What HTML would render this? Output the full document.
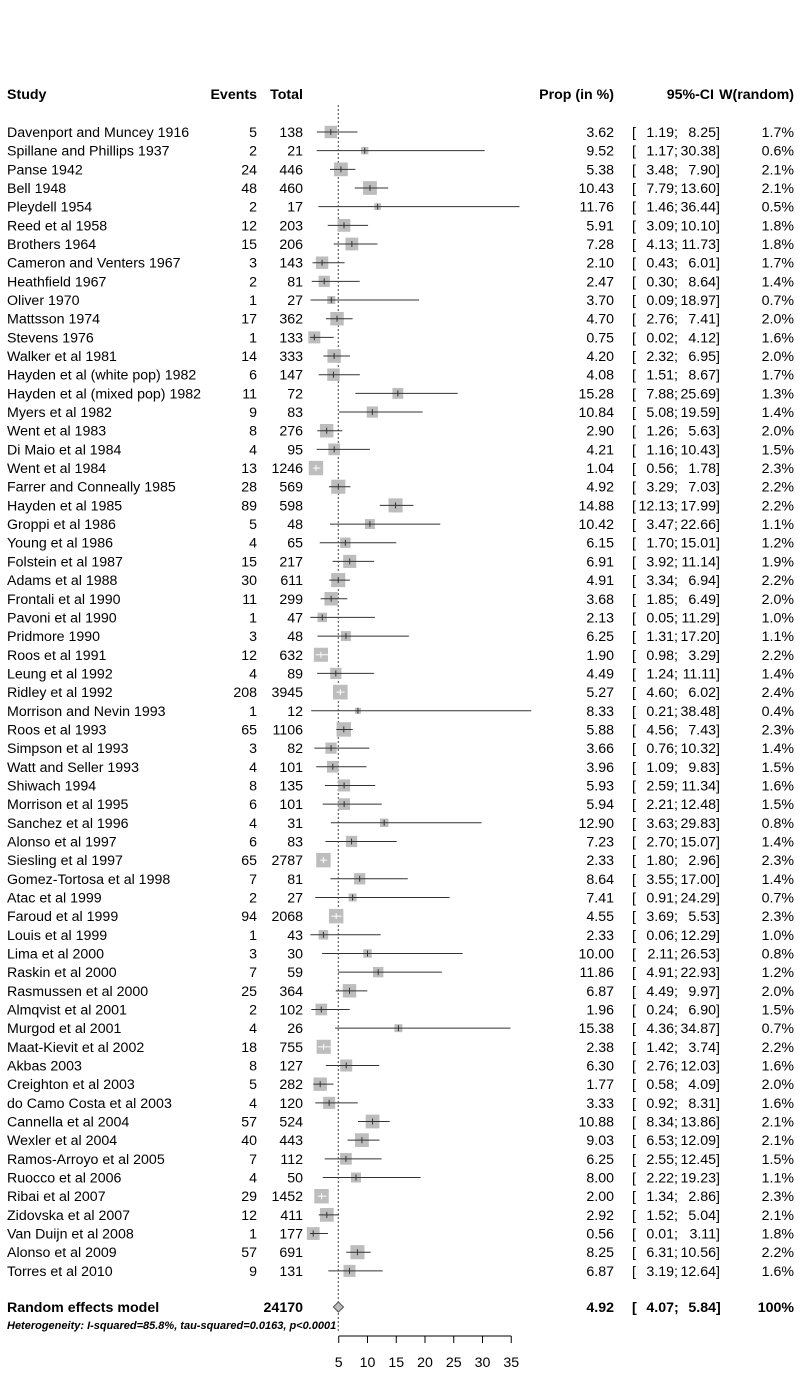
<!DOCTYPE html>
<html><head><meta charset="utf-8"><style>
body{margin:0;background:#fff}
svg{display:block;font-family:"Liberation Sans",sans-serif}
</style></head><body>
<svg id="plot" width="800" height="1400" xmlns="http://www.w3.org/2000/svg"></svg>
<script>
const studies=["Davenport and Muncey 1916","Spillane and Phillips 1937","Panse 1942","Bell 1948","Pleydell 1954","Reed et al 1958","Brothers 1964","Cameron and Venters 1967","Heathfield 1967","Oliver 1970","Mattsson 1974","Stevens 1976","Walker et al 1981","Hayden et al (white pop) 1982","Hayden et al (mixed pop) 1982","Myers et al 1982","Went et al 1983","Di Maio et al 1984","Went et al 1984","Farrer and Conneally 1985","Hayden et al 1985","Groppi et al 1986","Young et al 1986","Folstein et al 1987","Adams et al 1988","Frontali et al 1990","Pavoni et al 1990","Pridmore 1990","Roos et al 1991","Leung et al 1992","Ridley et al 1992","Morrison and Nevin 1993","Roos et al 1993","Simpson et al 1993","Watt and Seller 1993","Shiwach 1994","Morrison et al 1995","Sanchez et al 1996","Alonso et al 1997","Siesling et al 1997","Gomez-Tortosa et al 1998","Atac et al 1999","Faroud et al 1999","Louis et al 1999","Lima et al 2000","Raskin et al 2000","Rasmussen et al 2000","Almqvist et al 2001","Murgod et al 2001","Maat-Kievit et al 2002","Akbas  2003","Creighton et al 2003","do Camo Costa et al 2003","Cannella et al 2004","Wexler et al 2004","Ramos-Arroyo et al 2005","Ruocco et al 2006","Ribai et al 2007","Zidovska et al 2007","Van Duijn  et al 2008","Alonso et al 2009","Torres et al 2010"];
const events=[5,2,24,48,2,12,15,3,2,1,17,1,14,6,11,9,8,4,13,28,89,5,4,15,30,11,1,3,12,4,208,1,65,3,4,8,6,4,6,65,7,2,94,1,3,7,25,2,4,18,8,5,4,57,40,7,4,29,12,1,57,9];
const totals=[138,21,446,460,17,203,206,143,81,27,362,133,333,147,72,83,276,95,1246,569,598,48,65,217,611,299,47,48,632,89,3945,12,1106,82,101,135,101,31,83,2787,81,27,2068,43,30,59,364,102,26,755,127,282,120,524,443,112,50,1452,411,177,691,131];
const prop=[3.62,9.52,5.38,10.43,11.76,5.91,7.28,2.10,2.47,3.70,4.70,0.75,4.20,4.08,15.28,10.84,2.90,4.21,1.04,4.92,14.88,10.42,6.15,6.91,4.91,3.68,2.13,6.25,1.90,4.49,5.27,8.33,5.88,3.66,3.96,5.93,5.94,12.90,7.23,2.33,8.64,7.41,4.55,2.33,10.00,11.86,6.87,1.96,15.38,2.38,6.30,1.77,3.33,10.88,9.03,6.25,8.00,2.00,2.92,0.56,8.25,6.87];
const lower=[1.19,1.17,3.48,7.79,1.46,3.09,4.13,0.43,0.30,0.09,2.76,0.02,2.32,1.51,7.88,5.08,1.26,1.16,0.56,3.29,12.13,3.47,1.70,3.92,3.34,1.85,0.05,1.31,0.98,1.24,4.60,0.21,4.56,0.76,1.09,2.59,2.21,3.63,2.70,1.80,3.55,0.91,3.69,0.06,2.11,4.91,4.49,0.24,4.36,1.42,2.76,0.58,0.92,8.34,6.53,2.55,2.22,1.34,1.52,0.01,6.31,3.19];
const upper=[8.25,30.38,7.90,13.60,36.44,10.10,11.73,6.01,8.64,18.97,7.41,4.12,6.95,8.67,25.69,19.59,5.63,10.43,1.78,7.03,17.99,22.66,15.01,11.14,6.94,6.49,11.29,17.20,3.29,11.11,6.02,38.48,7.43,10.32,9.83,11.34,12.48,29.83,15.07,2.96,17.00,24.29,5.53,12.29,26.53,22.93,9.97,6.90,34.87,3.74,12.03,4.09,8.31,13.86,12.09,12.45,19.23,2.86,5.04,3.11,10.56,12.64];
const weights=[1.7,0.6,2.1,2.1,0.5,1.8,1.8,1.7,1.4,0.7,2.0,1.6,2.0,1.7,1.3,1.4,2.0,1.5,2.3,2.2,2.2,1.1,1.2,1.9,2.2,2.0,1.0,1.1,2.2,1.4,2.4,0.4,2.3,1.4,1.5,1.6,1.5,0.8,1.4,2.3,1.4,0.7,2.3,1.0,0.8,1.2,2.0,1.5,0.7,2.2,1.6,2.0,1.6,2.1,2.1,1.5,1.1,2.3,2.1,1.8,2.2,1.6];
const pooled=[4.92,4.07,5.84];
const pooledTotal="24170";
const xTicks=[5,10,15,20,25,30,35];

const svg=document.getElementById('plot');
const NS="http://www.w3.org/2000/svg";
const x=v=>310+v*5.75;
const rowY=i=>132+i*18.67;
function mk(tag,attrs,txt){const e=document.createElementNS(NS,tag);for(const k in attrs)e.setAttribute(k,attrs[k]);if(txt!==undefined)e.textContent=txt;svg.appendChild(e);return e;}
const fs=14.2;
const XP=614, XB=632, XL=674, XU=716, XW=794;
let h;
h=mk('text',{x:7,y:99,'font-size':fs,'font-weight':'bold'},'Study');

h=mk('text',{x:257,y:99,'font-size':fs,'font-weight':'bold','text-anchor':'end'},'Events');

h=mk('text',{x:303,y:99,'font-size':fs,'font-weight':'bold','text-anchor':'end'},'Total');

h=mk('text',{x:XP,y:99,'font-size':fs,'font-weight':'bold','text-anchor':'end'},'Prop (in %)');

h=mk('text',{x:714,y:99,'font-size':fs,'font-weight':'bold','text-anchor':'end'},'95%-CI');

h=mk('text',{x:XW,y:99,'font-size':fs,'font-weight':'bold','text-anchor':'end'},'W(random)');

h=mk('line',{x1:x(pooled[0]),x2:x(pooled[0]),y1:105,y2:1332,stroke:'#444','stroke-width':1,'stroke-dasharray':'2,2'});

function ciText(y,lo,up,bold,prefix){
  const w=bold?'bold':'normal';
  let t;
  t=mk('text',{x:XB,y:y,'font-size':fs,'font-weight':w},'[');
  
  t=mk('text',{x:XL,y:y,'font-size':fs,'font-weight':w,'text-anchor':'end'},lo.toFixed(2));
  
  t=mk('text',{x:XL,y:y,'font-size':fs,'font-weight':w},';');
  
  t=mk('text',{x:XU,y:y,'font-size':fs,'font-weight':w,'text-anchor':'end'},up.toFixed(2));
  
  t=mk('text',{x:XU,y:y,'font-size':fs,'font-weight':w},']');
  
}
for(let i=0;i<studies.length;i++){
  const y=rowY(i), ty=y+5;
  let t;
  t=mk('text',{x:7,y:ty,'font-size':fs},studies[i]);
  
  t=mk('text',{x:257,y:ty,'font-size':fs,'text-anchor':'end'},events[i]);
  
  t=mk('text',{x:303,y:ty,'font-size':fs,'text-anchor':'end'},totals[i]);
  
  t=mk('text',{x:XP,y:ty,'font-size':fs,'text-anchor':'end'},prop[i].toFixed(2));
  
  ciText(ty,lower[i],upper[i],false,'');
  t=mk('text',{x:XW,y:ty,'font-size':fs,'text-anchor':'end'},weights[i].toFixed(1)+'%');
  
  const s=9.5*Math.sqrt(weights[i]);
  const sq=mk('rect',{x:x(prop[i])-s/2,y:y-s/2,width:s,height:s,fill:'#bdbdbd'});
  
  const inside=(x(upper[i])-x(lower[i]))<s;
  const col=inside?'#fff':'#333';
  const ln=mk('line',{x1:x(lower[i]),x2:x(upper[i]),y1:y,y2:y,stroke:col,'stroke-width':1});
  
  const tk=mk('line',{x1:x(prop[i]),x2:x(prop[i]),y1:y-3,y2:y+3,stroke:col,'stroke-width':1});
  
}
const py=1307;
h=mk('text',{x:7,y:py+5,'font-size':fs,'font-weight':'bold'},'Random effects model');

h=mk('text',{x:303,y:py+5,'font-size':fs,'font-weight':'bold','text-anchor':'end'},pooledTotal);

h=mk('text',{x:XP,y:py+5,'font-size':fs,'font-weight':'bold','text-anchor':'end'},pooled[0].toFixed(2));

ciText(py+5,pooled[1],pooled[2],true,'pooled-');
h=mk('text',{x:XW,y:py+5,'font-size':fs,'font-weight':'bold','text-anchor':'end'},'100%');

h=mk('polygon',{points:`${x(pooled[1])},${py} ${x(pooled[0])},${py-5} ${x(pooled[2])},${py} ${x(pooled[0])},${py+5}`,fill:'#bdbdbd',stroke:'#555','stroke-width':1});

h=mk('text',{x:7,y:1329,'font-size':11,'font-weight':'bold','font-style':'italic'},'Heterogeneity: I-squared=85.8%, tau-squared=0.0163, p<0.0001');

const ay=1336;
h=mk('line',{x1:x(xTicks[0]),x2:x(xTicks[xTicks.length-1]),y1:ay,y2:ay,stroke:'#000','stroke-width':1});

xTicks.forEach(v=>{
  const t=mk('line',{x1:x(v),x2:x(v),y1:ay,y2:ay+7,stroke:'#000','stroke-width':1});
  
  const l=mk('text',{x:x(v),y:1367,'font-size':fs,'text-anchor':'middle'},v);
  
});
</script>
</body></html>
